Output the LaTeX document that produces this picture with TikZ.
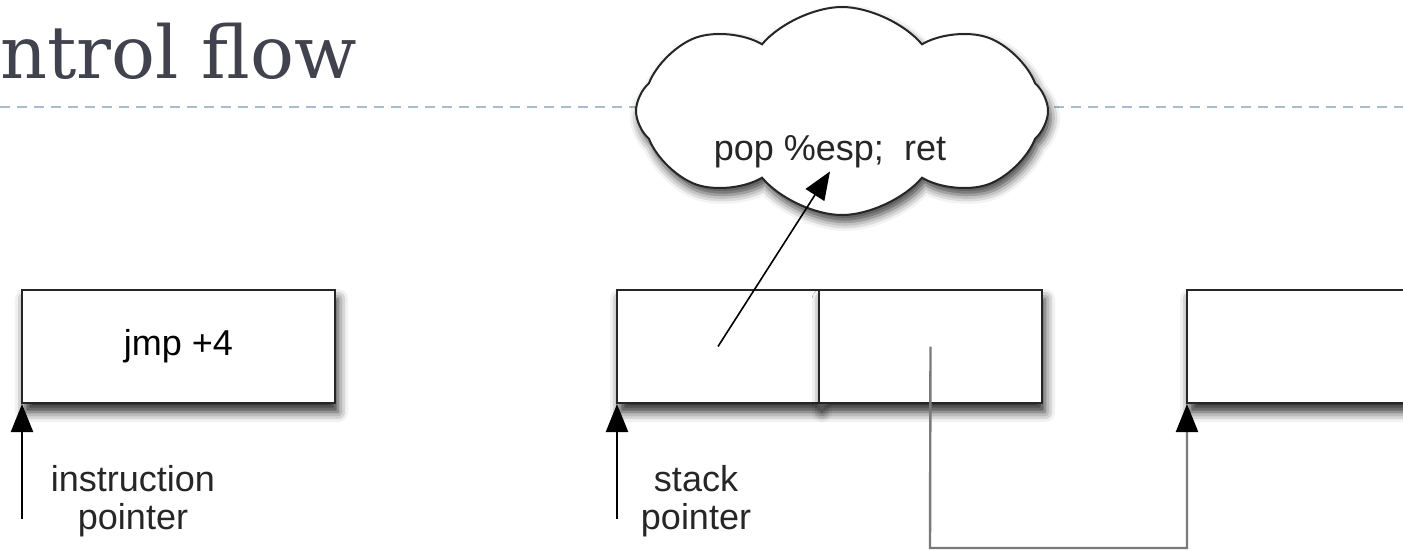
\documentclass[tikz,border=0pt]{standalone}
\usepackage{fontspec}
\setsansfont{Liberation Sans}
\newfontfamily\titlefont{DejaVu Serif}
\usetikzlibrary{arrows.meta, positioning, shapes.symbols, shadows.blur}
\definecolor{titlegray}{HTML}{42424F}
\definecolor{rulegray}{HTML}{A9BDCF}
\definecolor{linkgray}{HTML}{7A7A7A}
\tikzset{
  cell/.style={draw=black!85, line width=2pt, fill=white, minimum height=113pt,
    inner sep=0pt, outer sep=0pt, font=\sffamily\fontsize{36}{38}\selectfont,
    blur shadow={shadow xshift=3pt, shadow yshift=-9pt, shadow blur radius=10pt, shadow opacity=85}},
  ptr/.style={-{Triangle[length=28pt,width=22pt]}, line width=2.4pt},
  lbl/.style={font=\sffamily\fontsize{36}{38}\selectfont, align=center, text=black!85},
}
\begin{document}
\begin{tikzpicture}[x=1pt, y=-1pt, >=Stealth]
  \useasboundingbox (0,0) rectangle (1403,549);
  \clip (0,0) rectangle (1403,549);
  % Title and rule
  \node[anchor=base west, inner sep=0pt, text=titlegray, font=\titlefont\fontsize{73}{80}\selectfont] (title) at (0,78) {ntrol flow};
  \draw[rulegray, line width=1.6pt, dash pattern=on 10pt off 7pt] (0,107) -- (1403,107);
  % Cloud
  \node[cloud, cloud puffs=8, cloud puff arc=100, aspect=2, draw=black!85, line width=2pt,
    fill=white, minimum width=412pt, minimum height=208pt,
    blur shadow={shadow xshift=3pt, shadow yshift=-7pt, shadow blur radius=9pt, shadow opacity=75}] (cloud) at (842,111) {};
  \node[lbl, inner sep=3pt] (code) at (830,152) {pop \%esp;~~ret};
  % Memory cells
  \node[cell, minimum width=313pt] (jmp) at (178.5,346.5) {jmp +4};
  \node[cell, minimum width=202pt] (spl) at (718,346.5) {};
  \node[cell, minimum width=223pt, right=0pt of spl] (spr) {};
  \node[cell, minimum width=313pt] (next) at (1343.5,346.5) {};
  % Pointers
  \coordinate (ipbase) at (22,519);
  \coordinate (spbase) at (617,519);
  \coordinate (loop) at (930,548);
  \draw[ptr, shorten >=1pt] (ipbase) -- (jmp.south west);
  \draw[ptr, shorten >=1pt] (spbase) -- (spl.south west);
  \node[lbl] (iplbl) at (133,501) {instruction\\pointer};
  \node[lbl] (splbl) at (696,501) {stack\\pointer};
  \draw[-{Triangle[length=28pt,width=22pt]}, line width=1.6pt] (spl.center) -- (code.south);
  \draw[linkgray, line width=2.4pt, -{Triangle[length=28pt,width=22pt,color=black]}, shorten >=1pt]
    (spr.center) -- (loop) -| (next.south west);
\end{tikzpicture}
\end{document}
